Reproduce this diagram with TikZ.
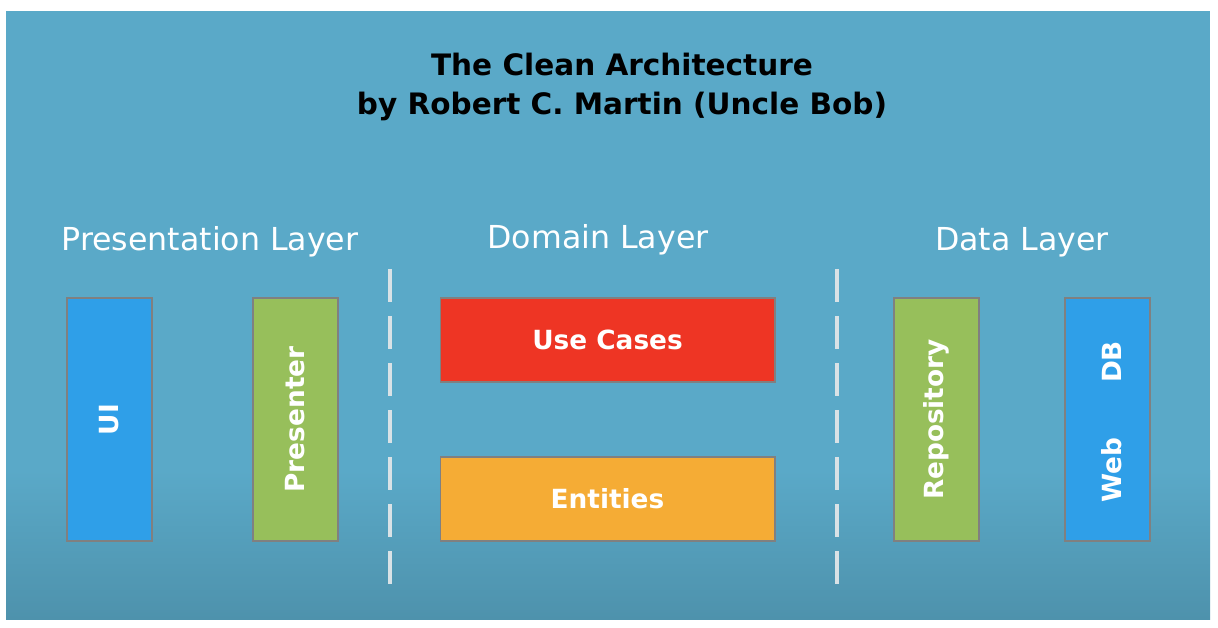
\documentclass[tikz,border=0pt]{standalone}
\usepackage{fontspec}
\setmainfont{DejaVu Sans}
\definecolor{bgtop}{HTML}{5AA9C8}
\definecolor{bgbot}{HTML}{4E92AC}
\definecolor{uiblue}{HTML}{2F9FE8}
\definecolor{presgreen}{HTML}{97BF5B}
\definecolor{ucred}{HTML}{EE3524}
\definecolor{entorange}{HTML}{F5AC35}
\definecolor{sepgray}{HTML}{D9E2E6}

\tikzset{
  layerbox/.style={draw=black!50, line width=0.6pt, inner sep=0pt, text=white},
  tallbox/.style={layerbox, minimum width=1.7cm, minimum height=4.86cm},
  widebox/.style={layerbox, minimum width=6.7cm, minimum height=1.68cm, font=\fontsize{15}{18}\selectfont\bfseries},
  vlabel/.style={text=white, rotate=90, font=\fontsize{15}{18}\selectfont\bfseries},
  layerlabel/.style={text=white, font=\fontsize{18}{22}\selectfont},
  separator/.style={sepgray, line width=2.3pt}
}

\begin{document}
\begin{tikzpicture}[x=0.02cm,y=-0.02cm]
    \useasboundingbox (0,0) rectangle (1218,628);
    \fill [bgtop] (6,11) rectangle (1210,619);
    \shade [top color=bgtop, bottom color=bgbot] (6,470) rectangle (1210,619);

    \node (TITLE) at (622,87) [align=center, font=\fontsize{16.8}{22.5}\selectfont\bfseries]
        {The Clean Architecture\\by Robert C. Martin (Uncle Bob)};

    \node (PL) at (210,242) [layerlabel] {Presentation Layer};
    \node (DL) at (598,240) [layerlabel] {Domain Layer};
    \node (DAL) at (1022,242) [layerlabel] {Data Layer};

    \node (UI) at (109.5,419.5) [tallbox, fill=uiblue] {};
    \node (PRE) at (295.5,419.5) [tallbox, fill=presgreen] {};
    \node (UC) at (607.5,340) [widebox, fill=ucred] {Use Cases};
    \node (ENT) at (607.5,499) [widebox, fill=entorange] {Entities};
    \node (REPO) at (936.5,419.5) [tallbox, fill=presgreen] {};
    \node (WEBDB) at (1107.5,419.5) [tallbox, fill=uiblue] {};

    \node (UIL) at (UI) [vlabel] {UI};
    \node (PREL) at (PRE) [vlabel] {Presenter};
    \node (REPOL) at (REPO) [vlabel] {Repository};
    \node (DB) at (1112,362) [vlabel] {DB};
    \node (WEB) at (1112,470) [vlabel] {Web};

    \foreach \y in {269,316,...,552} {
        \draw [separator] (390,\y) -- (390,\y+33);
        \draw [separator] (837,\y) -- (837,\y+33);
    }
\end{tikzpicture}
\end{document}
